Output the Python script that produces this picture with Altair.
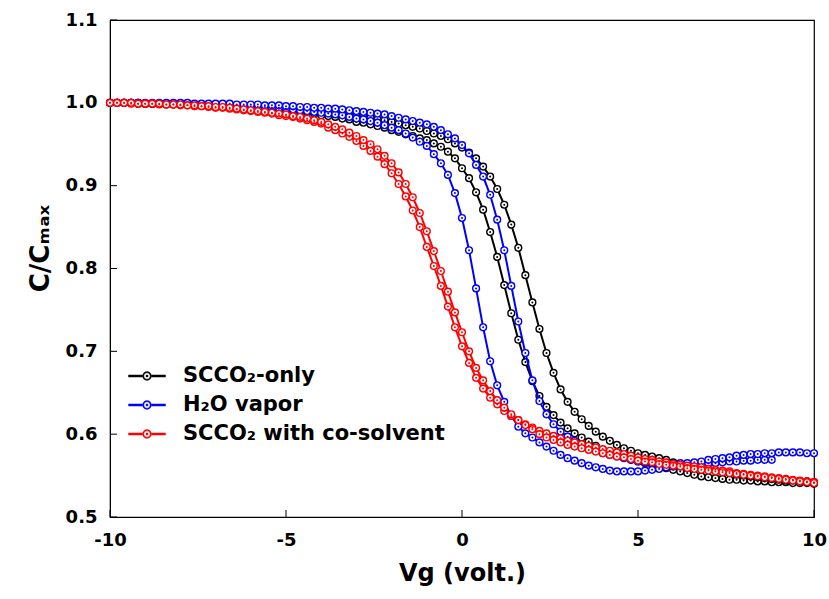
import altair as alt
import pandas as pd

# Gate voltage sweep grid (-10 V to 10 V, 0.2 V steps)
V = [round(-10 + 0.2 * i, 1) for i in range(101)]

# SCCO2-only (two sweep branches)
black_right = [1.000,1.000,1.000,1.000,1.000,0.999,0.999,0.999,0.999,0.999,0.999,
    0.998,0.998,0.998,0.998,0.997,0.997,0.997,0.997,0.996,0.996,
    0.996,0.995,0.995,0.994,0.994,0.993,0.992,0.991,0.990,0.989,
    0.988,0.987,0.986,0.985,0.984,0.983,0.982,0.980,0.979,0.977,
    0.975,0.973,0.971,0.969,0.966,0.963,0.960,0.956,0.951,0.946,
    0.940,0.933,0.923,0.911,0.896,0.877,0.853,0.825,0.792,0.759,
    0.727,0.698,0.674,0.654,0.639,0.627,0.618,0.610,0.603,0.597,
    0.592,0.587,0.583,0.580,0.577,0.575,0.573,0.571,0.569,0.566,
    0.564,0.562,0.561,0.559,0.557,0.556,0.554,0.553,0.551,0.550,
    0.549,0.548,0.547,0.546,0.545,0.544,0.544,0.543,0.543,0.542]
black_left = [1.000,1.000,1.000,1.000,0.999,0.999,0.999,0.999,0.998,0.998,0.998,
    0.998,0.997,0.997,0.997,0.996,0.996,0.996,0.995,0.995,0.995,
    0.994,0.994,0.993,0.993,0.991,0.990,0.989,0.988,0.987,0.985,
    0.984,0.983,0.981,0.980,0.977,0.976,0.974,0.972,0.970,0.967,
    0.965,0.962,0.960,0.957,0.955,0.951,0.947,0.941,0.933,0.921,
    0.909,0.892,0.871,0.844,0.814,0.780,0.746,0.714,0.687,0.664,
    0.646,0.633,0.623,0.614,0.607,0.601,0.596,0.591,0.586,0.581,
    0.578,0.575,0.572,0.569,0.567,0.565,0.563,0.561,0.559,0.557,
    0.555,0.553,0.551,0.549,0.548,0.547,0.546,0.545,0.545,0.544,
    0.544,0.543,0.543,0.542,0.542,0.542,0.541,0.541,0.541,0.540]

# H2O vapor (two sweep branches; one ends at 8.8 V)
blue_left = [1.000,1.000,1.000,1.000,1.000,0.999,0.999,0.999,0.999,0.999,0.999,
    0.998,0.998,0.998,0.998,0.997,0.997,0.997,0.997,0.996,0.996,
    0.995,0.995,0.994,0.994,0.993,0.992,0.991,0.990,0.989,0.988,
    0.987,0.986,0.985,0.983,0.981,0.980,0.978,0.976,0.973,0.970,
    0.967,0.963,0.958,0.953,0.948,0.938,0.927,0.913,0.891,0.861,
    0.822,0.776,0.729,0.688,0.659,0.639,0.622,0.609,0.601,0.596,
    0.590,0.585,0.580,0.575,0.571,0.568,0.565,0.562,0.560,0.558,
    0.556,0.555,0.555,0.555,0.555,0.556,0.557,0.558,0.560,0.561,
    0.561,0.562,0.563,0.564,0.565,0.565,0.566,0.567,0.567,0.568,
    0.568,0.569,0.569,0.569]
blue_right = [1.000,1.000,1.000,1.000,1.000,1.000,1.000,1.000,1.000,1.000,1.000,
    1.000,0.999,0.999,0.999,0.999,0.999,0.999,0.998,0.998,0.998,
    0.998,0.997,0.997,0.997,0.996,0.996,0.995,0.995,0.994,0.994,
    0.993,0.993,0.992,0.991,0.990,0.989,0.988,0.987,0.986,0.984,
    0.982,0.980,0.978,0.976,0.974,0.971,0.967,0.962,0.957,0.949,
    0.939,0.925,0.911,0.889,0.859,0.822,0.779,0.736,0.698,0.665,
    0.640,0.624,0.612,0.603,0.597,0.592,0.587,0.583,0.580,0.577,
    0.575,0.573,0.571,0.569,0.567,0.566,0.565,0.565,0.564,0.564,
    0.565,0.565,0.566,0.567,0.569,0.570,0.571,0.572,0.574,0.575,
    0.576,0.576,0.577,0.577,0.578,0.578,0.578,0.578,0.577,0.577]

# SCCO2 with co-solvent (two sweep branches)
red_left = [1.000,1.000,1.000,0.999,0.999,0.999,0.999,0.998,0.998,0.998,0.997,
    0.997,0.996,0.996,0.995,0.994,0.994,0.993,0.992,0.991,0.990,
    0.989,0.988,0.987,0.985,0.984,0.983,0.981,0.979,0.977,0.975,
    0.970,0.967,0.963,0.959,0.954,0.948,0.942,0.935,0.926,0.915,
    0.902,0.887,0.870,0.850,0.826,0.803,0.779,0.754,0.729,0.706,
    0.686,0.668,0.655,0.644,0.636,0.628,0.622,0.617,0.612,0.608,
    0.604,0.601,0.598,0.595,0.592,0.590,0.588,0.586,0.584,0.582,
    0.580,0.578,0.576,0.574,0.572,0.570,0.569,0.567,0.566,0.564,
    0.563,0.562,0.561,0.560,0.558,0.557,0.556,0.555,0.553,0.552,
    0.551,0.550,0.549,0.548,0.547,0.546,0.545,0.544,0.543,0.542]
red_right = [1.000,1.000,1.000,1.000,0.999,0.999,0.999,0.999,0.998,0.998,0.998,
    0.997,0.997,0.996,0.996,0.995,0.995,0.994,0.993,0.992,0.991,
    0.990,0.989,0.988,0.987,0.986,0.984,0.983,0.981,0.979,0.977,
    0.974,0.971,0.968,0.964,0.960,0.955,0.950,0.944,0.936,0.927,
    0.916,0.902,0.886,0.867,0.845,0.821,0.797,0.772,0.747,0.723,
    0.700,0.680,0.665,0.652,0.641,0.632,0.624,0.617,0.611,0.606,
    0.600,0.596,0.593,0.590,0.587,0.585,0.583,0.581,0.579,0.577,
    0.575,0.573,0.572,0.570,0.568,0.567,0.566,0.564,0.563,0.562,
    0.561,0.559,0.558,0.557,0.556,0.555,0.554,0.553,0.552,0.551,
    0.550,0.549,0.548,0.547,0.546,0.545,0.544,0.543,0.542,0.541]

series_names = ["SCCO\u2082-only", "H\u2082O vapor", "SCCO\u2082 with co-solvent"]
series_colors = ["#000000", "#0000FF", "#FF0000"]
curves = [
    (series_names[0], "b1", black_left), (series_names[0], "b2", black_right),
    (series_names[1], "h1", blue_left), (series_names[1], "h2", blue_right),
    (series_names[2], "r1", red_left), (series_names[2], "r2", red_right),
]
y_ticks = [0.5, 0.6, 0.7, 0.8, 0.9, 1.0, 1.1]
x_ticks = [-10, -5, 0, 5, 10]

rows = []
for name, cid, vals in curves:
    for v, c in zip(V, vals):
        rows.append({"series": name, "curve": cid, "V": v, "C": c})
df = pd.DataFrame(rows)

FONT = "DejaVu Sans"
W, H = 704, 497

xscale = alt.Scale(domain=[-10, 10], nice=False)
yscale = alt.Scale(domain=[0.5, 1.1], nice=False)
cscale = alt.Scale(domain=series_names, range=series_colors)

xax = alt.Axis(values=x_ticks, tickSize=0, labelFont=FONT, labelFontSize=18,
               labelFontWeight="bold", labelColor="black", labelPadding=14,
               labelExpr="datum.value + ''",
               title="Vg (volt.)", titleFont=FONT, titleFontSize=24,
               titleFontWeight="bold", titleColor="black", titlePadding=12,
               grid=False, domainColor="black", labelFlush=False)
yax = alt.Axis(values=y_ticks, format=".1f", tickSize=0, labelFont=FONT,
               labelFontSize=18, labelFontWeight="bold", labelColor="black",
               labelPadding=13, title="C/C\u2098\u2090\u2093", titleFont=FONT,
               titleFontSize=26, titleFontWeight="bold", titleColor="black",
               titlePadding=12, titleY=228, grid=False, domainColor="black")

# legend glyph built from filled regions: two bars, a ring (outer/inner
# circles of opposite winding) and a small centre dot
legend_path = ("M-1,-0.06L-0.25,-0.06L-0.25,0.06L-1,0.06Z"
               "M0.25,-0.06L1,-0.06L1,0.06L0.25,0.06Z"
               "M-0.24,0A0.24,0.24,0,1,1,0.24,0A0.24,0.24,0,1,1,-0.24,0Z"
               "M-0.17,0A0.17,0.17,0,1,0,0.17,0A0.17,0.17,0,1,0,-0.17,0Z"
               "M-0.05,-0.05L0.05,-0.05L0.05,0.05L-0.05,0.05Z")

base = alt.Chart(df)
layers = []
for i, name in enumerate(series_names):
    sub = base.transform_filter(alt.datum.series == name)
    legend = None
    if i == 0:
        legend = alt.Legend(title=None, orient="none", legendX=18, legendY=337,
                            symbolType=legend_path, symbolSize=1369,
                            symbolStrokeWidth=0.4,
                            labelFont=FONT, labelFontSize=21,
                            labelFontWeight="bold", labelColor="black",
                            labelOffset=17, rowPadding=0, padding=0,
                            labelLimit=400)
    line = sub.mark_line(strokeWidth=2).encode(
        x=alt.X("V:Q", scale=xscale, axis=xax),
        y=alt.Y("C:Q", scale=yscale, axis=yax),
        detail="curve:N",
        color=alt.Color("series:N", scale=cscale, legend=legend))
    pts = sub.mark_point(shape="circle", filled=False, fill="white", size=46,
                         strokeWidth=1.4, opacity=1).encode(
        x="V:Q", y="C:Q", color=alt.Color("series:N", scale=cscale, legend=None))
    dots = sub.mark_circle(size=4, opacity=1).encode(
        x="V:Q", y="C:Q", color=alt.Color("series:N", scale=cscale, legend=None))
    layers += [line, pts, dots]

ytick_df = pd.DataFrame({"t": y_ticks})
xtick_df = pd.DataFrame({"t": x_ticks})
yticks = alt.Chart(ytick_df).mark_rule(color="black", strokeWidth=1).encode(
    y=alt.Y("t:Q", scale=yscale), x=alt.value(0), x2=alt.value(7))
xticks = alt.Chart(xtick_df).mark_rule(color="black", strokeWidth=1).encode(
    x=alt.X("t:Q", scale=xscale), y=alt.value(H), y2=alt.value(H - 7))

chart = alt.layer(yticks, xticks, *layers).properties(
    width=W, height=H,
    autosize=alt.AutoSizeParams(type="none"),
    padding={"left": 110, "top": 20, "right": 15, "bottom": 82},
    background="white",
).configure_view(stroke="black", strokeWidth=1.2)

chart.save("out.html", embed_options={"renderer": "svg", "actions": False})
